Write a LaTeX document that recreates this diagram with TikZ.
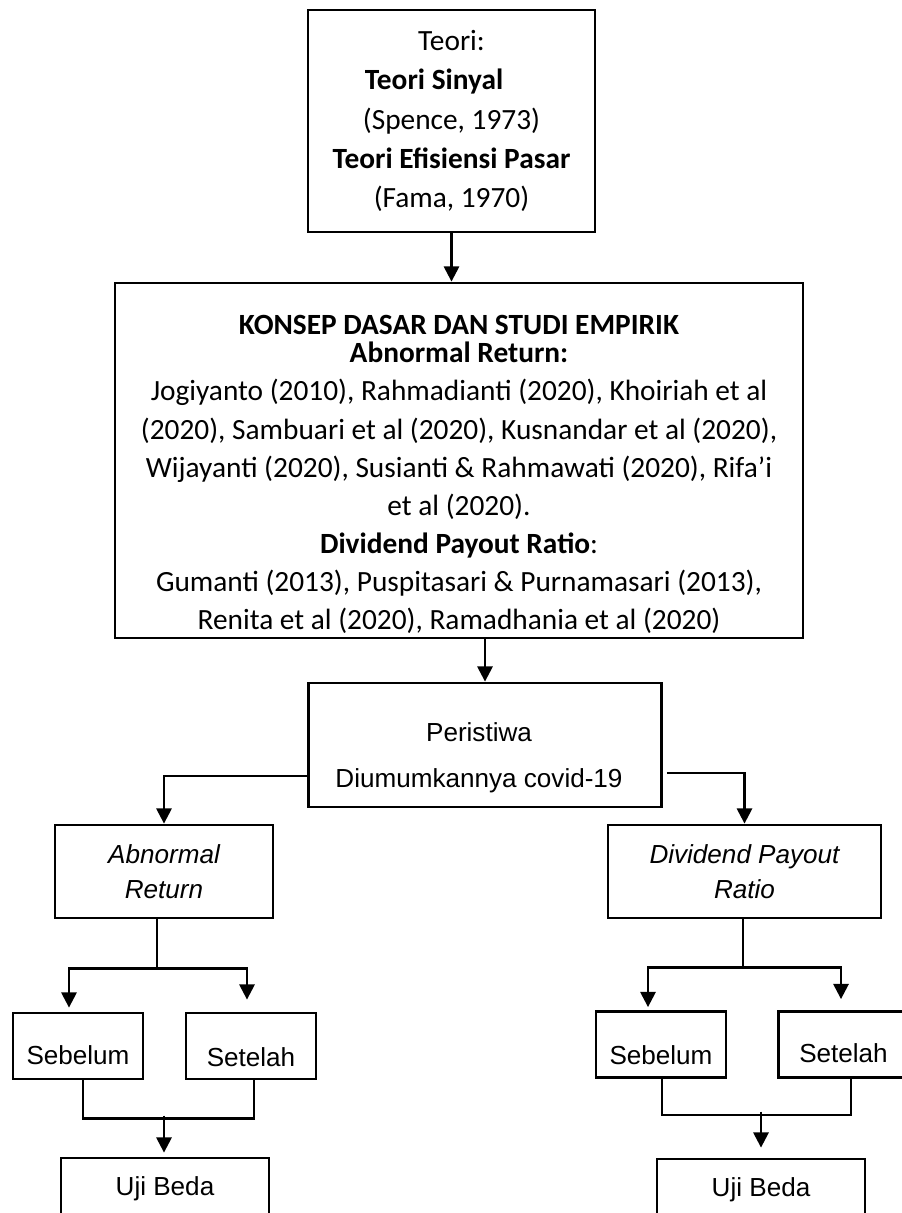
\documentclass[tikz,border=0pt]{standalone}
\usepackage{fontspec}
\setmainfont{Carlito}
\newfontfamily\arialfont{Liberation Sans}
\usetikzlibrary{arrows.meta,calc}

\newcommand{\pxu}{0.46pt}

\tikzset{
	box/.style={draw, line width=1.3pt, rectangle, align=center, inner sep=0pt},
	arr/.style={line width=1.1pt, -{Triangle[width=7pt,length=7pt]}},
	ln/.style={line width=1.1pt},
	cal/.style={font=\fontsize{13.5}{17.5}\selectfont},
	ari/.style={font=\arialfont\fontsize{12}{16}\selectfont},
	kecil/.style={box, ari, minimum width=130*\pxu, minimum height=66*\pxu}
}

\begin{document}
\begin{tikzpicture}[x=0.46pt, y=-0.46pt]
	\useasboundingbox (0,0) rectangle (901,1213);
	% teori dan konsep
	\node[box, font=\fontsize{13.5}{18}\selectfont, minimum width=287*\pxu, minimum height=222*\pxu] (teori) at (451.5,121)
		{Teori:\\ \textbf{Teori Sinyal}\hspace*{16pt}\null\\ (Spence, 1973)\\ \textbf{Teori Efisiensi Pasar}\\ (Fama, 1970)};
	\node[box, cal, minimum width=688*\pxu, minimum height=355*\pxu] (konsep) at (459,460.5)
		{\rule{0pt}{21.6pt}\textbf{KONSEP DASAR DAN STUDI EMPIRIK}\\[-4.5pt]
		\textbf{Abnormal Return:}\\
		Jogiyanto (2010), Rahmadianti (2020), Khoiriah et al\\
		(2020), Sambuari et al (2020), Kusnandar et al (2020),\\
		Wijayanti (2020), Susianti \& Rahmawati (2020), Rifa’i\\
		et al (2020).\\
		\textbf{Dividend Payout Ratio}:\\
		Gumanti (2013), Puspitasari \& Purnamasari (2013),\\
		Renita et al (2020), Ramadhania et al (2020)};
	% peristiwa
	\node[box, ari, minimum width=353*\pxu, minimum height=124*\pxu] (peristiwa) at (485,745)
		{\rule{0pt}{20.6pt}Peristiwa\hspace*{5.5pt}\null\\[5pt] Diumumkannya covid-19\hspace*{5.5pt}\null};
		\node[box, ari, minimum width=218*\pxu, minimum height=93*\pxu] (abnormal) at (164,871.5)
			{\itshape Abnormal\\ \itshape Return};
		\node[box, ari, minimum width=273*\pxu, minimum height=93*\pxu] (dividend) at (744.5,871.5)
			{\itshape Dividend Payout\\ \itshape Ratio};
			\node[kecil, text height=17pt] (sebL) at (78,1046) {Sebelum};
			\node[kecil, text height=18.7pt] (setL) at (251,1046) {Setelah};
			\node[kecil, text height=18.3pt] (sebR) at (661,1044.5) {Sebelum};
			\node[kecil, text height=16.4pt] (setR) at (843.5,1044.5) {Setelah};
				\node[box, ari, minimum width=208*\pxu, minimum height=62*\pxu] (ujiL) at (165,1189) {Uji Beda};
				\node[box, ari, minimum width=208*\pxu, minimum height=62*\pxu] (ujiR) at (761,1190) {Uji Beda};
	% panah atas
	\draw[arr] (teori.south) -- (teori.south |- konsep.north);
	\draw[arr] (konsep.south -| peristiwa.north) -- (peristiwa.north);
	\draw[arr] ($(peristiwa.west)+(0,31)$) -| (abnormal.north);
	\draw[arr] ($(peristiwa.east)+(4,28)$) -| (dividend.north);
	% cabang kiri
	\coordinate (aj) at ($(abnormal.south)+(-7,49)$);
	\draw[ln] ($(abnormal.south)+(-7,0)$) -- (aj);
	\draw[arr] (aj) -| ($(sebL.north)+(-9,-4)$);
	\draw[arr] (aj) -| ($(setL.north)+(-4,-12)$);
	\draw[ln] ($(sebL.south)+(5,0)$) |- ($(setL.south)+(3,38)$) -- ($(setL.south)+(3,0)$);
	\draw[arr] ($(ujiL.north)+(-1,-41)$) -- ($(ujiL.north)+(-1,-4)$);
	% cabang kanan
	\coordinate (dj) at ($(dividend.south)+(-1.5,48)$);
	\draw[ln] ($(dividend.south)+(-1.5,0)$) -- (dj);
	\draw[arr] (dj) -| ($(sebR.north)+(-13,-3)$);
	\draw[arr] (dj) -| ($(setR.north)+(-2.5,-11)$);
	\draw[ln] ($(sebR.south)+(1,0)$) |- ($(setR.south)+(7.5,36)$) -- ($(setR.south)+(7.5,0)$);
	\draw[arr] ($(ujiR.north)+(0,-46)$) -- ($(ujiR.north)+(0,-10)$);
\end{tikzpicture}
\end{document}
